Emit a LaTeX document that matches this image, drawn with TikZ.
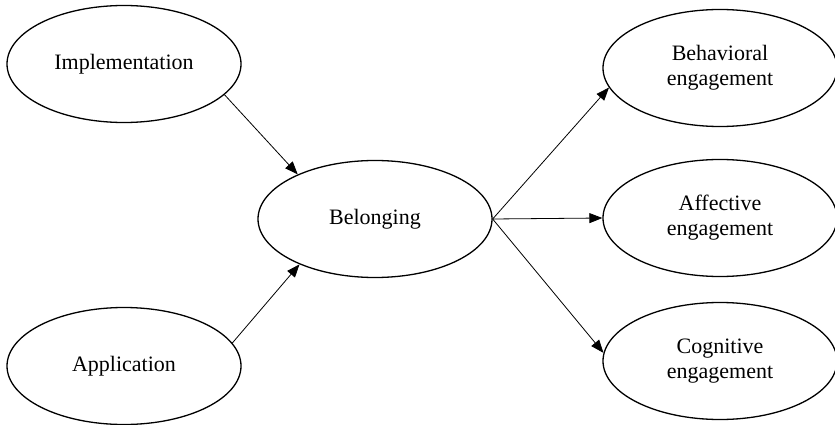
\documentclass[tikz,border=0pt]{standalone}
\usepackage{fontspec}
\setmainfont{Liberation Serif}
\usetikzlibrary{shapes.geometric,arrows.meta}
\begin{document}
\begin{tikzpicture}[x=1pt,y=-1pt,
  oval/.style={ellipse, draw, line width=1.3pt, minimum width=234pt, minimum height=117pt,
    inner sep=0pt, align=center, font=\fontsize{22}{25}\selectfont},
  link/.style={line width=0.8pt, -{Triangle[length=13pt,width=10pt]}}]
\useasboundingbox (0,0) rectangle (835,425);
\fill[white] (0,0) rectangle (835,425);
\node[oval] (impl) at (124,64) {Implementation};
\node[oval] (appl) at (124,366) {Application};
\node[oval] (bel) at (375,219) {Belonging};
\node[oval] (beh) at (720,68) {Behavioral\\engagement};
\node[oval] (aff) at (720,218) {Affective\\engagement};
\node[oval] (cog) at (720,361) {Cognitive\\engagement};
\draw[link] (impl.-17.6) -- (bel.150.3);
\draw[link] (appl.12.8) -- (bel.211.6);
\draw[link] (bel.east) -- (beh.190.7);
\draw[link] (bel.east) -- (aff.west);
\draw[link] (bel.east) -- (cog.176);
\end{tikzpicture}
\end{document}
